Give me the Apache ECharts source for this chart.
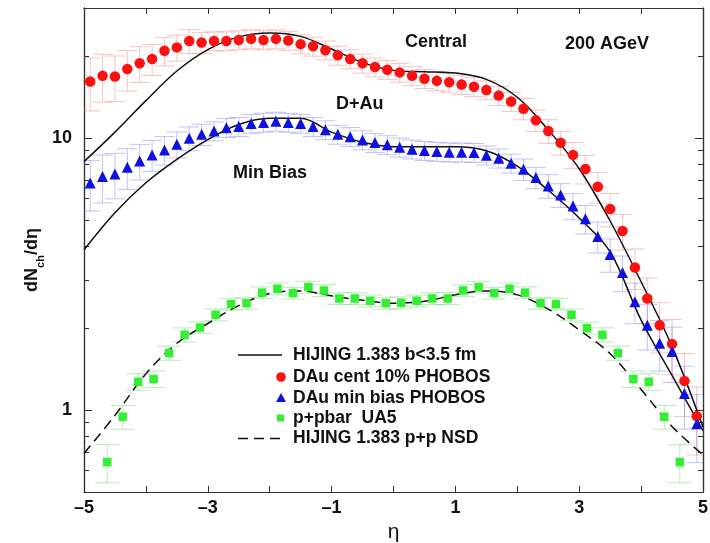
<!DOCTYPE html>
<html><head><meta charset="utf-8">
<script src="https://cdn.jsdelivr.net/npm/echarts@6/dist/echarts.min.js"></script>
<style>html,body{margin:0;padding:0;background:#fff}#c{width:710px;height:543px}</style>
</head><body><div id="c"></div>
<script>
// ---- data ----
const etaPhobos = [-4.9,-4.7,-4.5,-4.3,-4.1,-3.9,-3.7,-3.5,-3.3,-3.1,-2.9,-2.7,-2.5,-2.3,-2.1,-1.9,-1.7,-1.5,-1.3,-1.1,-0.9,-0.7,-0.5,-0.3,-0.1,0.1,0.3,0.5,0.7,0.9,1.1,1.3,1.5,1.7,1.9,2.1,2.3,2.5,2.7,2.9,3.1,3.3,3.5,3.7,3.9,4.1,4.3,4.5,4.7,4.9];
const centralVals = [16.1,16.9,16.8,17.9,18.8,19.5,20.9,21.5,22.7,22.4,22.7,22.7,22.9,23.1,22.9,23.1,22.8,22.1,21.7,21.0,20.1,19.5,18.8,18.2,17.8,17.4,16.9,16.5,16.2,16.0,15.7,15.4,15.0,14.3,13.6,12.8,11.6,10.6,9.6,8.66,7.69,6.61,5.48,4.55,3.34,2.57,2.05,1.75,1.28,0.95];
const centralErr = [0.22,0.20,0.19,0.17,0.15,0.13,0.12,0.11,0.10,0.09,0.08,0.08,0.08,0.08,0.08,0.08,0.08,0.08,0.08,0.08,0.08,0.08,0.08,0.08,0.08,0.08,0.08,0.08,0.08,0.08,0.08,0.08,0.08,0.08,0.08,0.09,0.09,0.10,0.10,0.11,0.12,0.13,0.14,0.15,0.17,0.19,0.21,0.23,0.26,0.28];
const minBiasVals = [6.82,7.21,7.37,7.80,8.23,8.66,9.03,9.48,9.97,10.3,10.6,10.9,11.0,11.3,11.4,11.5,11.4,11.3,11.0,10.7,10.3,10.1,9.83,9.61,9.43,9.24,9.09,8.98,8.91,8.86,8.86,8.83,8.64,8.42,8.07,7.67,7.15,6.66,6.17,5.62,5.04,4.34,3.73,3.20,2.50,2.05,1.76,1.64,1.15,0.89];
const minBiasErr = [0.21,0.20,0.19,0.17,0.15,0.13,0.12,0.11,0.10,0.09,0.08,0.08,0.08,0.08,0.08,0.08,0.08,0.08,0.08,0.08,0.08,0.08,0.08,0.08,0.08,0.08,0.08,0.08,0.08,0.08,0.08,0.08,0.08,0.08,0.08,0.09,0.09,0.10,0.10,0.11,0.12,0.13,0.14,0.15,0.17,0.19,0.21,0.23,0.26,0.28];
const etaUA5 = [-4.625,-4.375,-4.125,-3.875,-3.625,-3.375,-3.125,-2.875,-2.625,-2.375,-2.125,-1.875,-1.625,-1.375,-1.125,-0.875,-0.625,-0.375,-0.125,0.125,0.375,0.625,0.875,1.125,1.375,1.625,1.875,2.125,2.375,2.625,2.875,3.125,3.375,3.625,3.875,4.125,4.375,4.625];
const ua5Vals = [0.644,0.945,1.27,1.30,1.62,1.89,2.01,2.24,2.45,2.47,2.70,2.79,2.69,2.83,2.75,2.57,2.57,2.52,2.47,2.48,2.52,2.57,2.57,2.75,2.83,2.69,2.79,2.70,2.47,2.45,2.24,2.00,1.89,1.62,1.30,1.27,0.945,0.644];
const ua5Err = [0.16,0.10,0.07,0.07,0.06,0.06,0.05,0.05,0.05,0.05,0.05,0.05,0.05,0.05,0.05,0.05,0.05,0.05,0.05,0.05,0.05,0.05,0.05,0.05,0.05,0.05,0.05,0.05,0.05,0.05,0.05,0.05,0.06,0.06,0.07,0.07,0.10,0.16];
const etaHijing = [-5,-4.5,-4,-3.5,-3,-2.5,-2,-1.5,-1,-0.5,0,0.5,1,1.5,2,2.5,3,3.5,4,4.5,5];
const hijingCentral = [8.18,10.5,13.7,17.6,21.1,23.5,24.3,23.6,21.2,18.9,17.7,17.5,17.3,16.4,14.1,10.7,7.70,4.95,2.96,1.71,0.866];
const hijingMinBias = [3.88,5.31,6.84,8.34,9.86,11.2,11.8,11.8,10.5,9.63,9.28,9.27,9.28,8.97,7.88,6.42,5.08,3.81,2.14,1.34,0.84];
const hijingPP = [0.693,0.956,1.36,1.76,2.08,2.42,2.68,2.74,2.63,2.53,2.47,2.51,2.65,2.74,2.65,2.35,1.97,1.61,1.19,0.87,0.684];
const xTickLabels = [-5,-3,-1,1,3,5];
const yTickLabels = [1,10];
const yMinorTicks = [0.5,0.6,0.7,0.8,0.9,2,3,4,5,6,7,8,9,20,30];
const legendNames = ['HIJING 1.383 b<3.5 fm','DAu cent 10% PHOBOS','DAu min bias PHOBOS','p+pbar  UA5','HIJING 1.383 p+p NSD'];

// ---- chart ----
const FONT = '"Liberation Sans", Arial, Helvetica, sans-serif';
const chart = echarts.init(document.getElementById('c'), null, {renderer:'canvas'});
const pairs = (xs, ys) => xs.map((x,i)=>[x, ys[i]]);

function errSeries(xs, vs, errs, color, capHalf){
  return {
    type:'custom', xAxisIndex:0, yAxisIndex:0, z:2, silent:true, animation:false, clip:true,
    encode:{x:0, y:[1,2]},
    data: xs.map((x,i)=>[x, vs[i]*(1-errs[i]), vs[i]*(1+errs[i])]),
    renderItem:function(params, api){
      const x = api.value(0);
      const lo = api.coord([x, api.value(1)]);
      const hi = api.coord([x, api.value(2)]);
      const st = {stroke:color, lineWidth:1, fill:null};
      return {type:'group', children:[
        {type:'line', shape:{x1:lo[0],y1:lo[1],x2:hi[0],y2:hi[1]}, style:st},
        {type:'line', shape:{x1:lo[0]-capHalf,y1:lo[1],x2:lo[0]+capHalf,y2:lo[1]}, style:st},
        {type:'line', shape:{x1:hi[0]-capHalf,y1:hi[1],x2:hi[0]+capHalf,y2:hi[1]}, style:st}
      ]};
    }
  };
}

const axisLineStyle = {color:'#333', width:1.2};
const labelStyle = {color:'#111', fontSize:18, fontWeight:'bold', fontFamily:FONT};

function yAx(pos, major){
  return {
    type:'log', logBase:10, min:0.5, max:30, position:pos, gridIndex:0,
    axisLine:{show:true, onZero:false, lineStyle:axisLineStyle},
    axisTick:{show:true, inside:true, length: major?8:5, customValues: major?yTickLabels:yMinorTicks, lineStyle:{color:'#333', width:1}},
    axisLabel:(major && pos==='left') ? Object.assign({customValues:yTickLabels, margin:12, formatter:v=>String(v)}, labelStyle) : {show:false},
    splitLine:{show:false}, minorTick:{show:false}, minorSplitLine:{show:false}
  };
}
function xAx(pos){
  return {
    type:'value', min:-5, max:5, interval:1, position:pos, gridIndex:0,
    axisLine:{show:true, onZero:false, lineStyle:axisLineStyle},
    axisTick:{show:true, inside:true, length:6, lineStyle:{color:'#333', width:1}},
    axisLabel: pos==='bottom' ? Object.assign({customValues:xTickLabels, margin:7, formatter:v=> v<0 ? '\u2013'+(-v) : String(v)}, labelStyle) : {show:false},
    splitLine:{show:false},
    name: pos==='bottom' ? 'η' : '', nameLocation:'middle', nameGap:22,
    nameTextStyle:{fontSize:21, color:'#111', fontFamily:FONT}
  };
}

const legendRowsY = [355, 377, 398, 418, 438.5];
const graphics = [
  {type:'text', x:405, y:42.5, style:{text:'Central', font:'bold 18px '+FONT, fill:'#111', verticalAlign:'middle'}},
  {type:'text', x:565, y:44, style:{text:'200 AGeV', font:'bold 18px '+FONT, fill:'#111', verticalAlign:'middle'}},
  {type:'text', x:336, y:104, style:{text:'D+Au', font:'bold 18px '+FONT, fill:'#111', verticalAlign:'middle'}},
  {type:'text', x:233, y:173.5, style:{text:'Min Bias', font:'bold 18px '+FONT, fill:'#111', verticalAlign:'middle'}},
  {type:'text', x:30, y:260, rotation:Math.PI/2, style:{
    text:'{a|dN}{s|ch}{a|/d}{a|η}', align:'center', verticalAlign:'middle',
    rich:{a:{font:'bold 18px '+FONT, fill:'#111', verticalAlign:'bottom', lineHeight:22},
          s:{font:'bold 11px '+FONT, fill:'#111', verticalAlign:'bottom', lineHeight:14, padding:[0,0,-5,0]}}}},
  // legend
  {type:'line', shape:{x1:238,y1:legendRowsY[0],x2:282,y2:legendRowsY[0]}, style:{stroke:'#111', lineWidth:1.5}},
  {type:'circle', shape:{cx:281,cy:legendRowsY[1],r:4.8}, style:{fill:'#ff1010'}},
  {type:'polygon', shape:{points:[[281,legendRowsY[2]-5],[276,legendRowsY[2]+4],[286,legendRowsY[2]+4]]}, style:{fill:'#1010e0'}},
  {type:'rect', shape:{x:277,y:legendRowsY[3]-3.5,width:7,height:7}, style:{fill:'#33ee33'}},
  {type:'line', shape:{x1:238,y1:legendRowsY[4],x2:282,y2:legendRowsY[4]}, style:{stroke:'#111', lineWidth:1.5, lineDash:[10,6]}}
];
legendNames.forEach((t,i)=>graphics.push({type:'text', x:293, y:legendRowsY[i], style:{text:t, font:'bold 17.5px '+FONT, fill:'#111', verticalAlign:'middle'}}));

chart.setOption({
  backgroundColor:'#fff',
  animation:false,
  grid:{left:84, right:7, top:8, bottom:51, containLabel:false, outerBoundsMode:'none'},
  xAxis:[xAx('bottom'), xAx('top')],
  yAxis:[yAx('left',true), yAx('left',false), yAx('right',true), yAx('right',false)],
  series:[
    errSeries(etaPhobos, centralVals, centralErr, 'rgba(245,120,120,0.45)', 10),
    errSeries(etaPhobos, minBiasVals, minBiasErr, 'rgba(120,120,245,0.45)', 10),
    errSeries(etaUA5, ua5Vals, ua5Err, 'rgba(110,225,110,0.5)', 12),
    {type:'line', name:legendNames[0], data:pairs(etaHijing, hijingCentral), smooth:0.35, showSymbol:false, z:3,
     lineStyle:{color:'#111', width:1.5}},
    {type:'line', name:legendNames[0]+' MB', data:pairs(etaHijing, hijingMinBias), smooth:0.35, showSymbol:false, z:3,
     lineStyle:{color:'#111', width:1.5}},
    {type:'line', name:legendNames[4], data:pairs(etaHijing, hijingPP), smooth:0.35, showSymbol:false, z:3,
     lineStyle:{color:'#111', width:1.5, type:[10,6]}},
    {type:'scatter', name:legendNames[1], data:pairs(etaPhobos, centralVals), symbol:'circle', symbolSize:10.5, z:4,
     itemStyle:{color:'#ff1010', opacity:1}},
    {type:'scatter', name:legendNames[2], data:pairs(etaPhobos, minBiasVals), symbol:'triangle', symbolSize:11, z:4,
     itemStyle:{color:'#1010e0', opacity:1}},
    {type:'scatter', name:legendNames[3], data:pairs(etaUA5, ua5Vals), symbol:'rect', symbolSize:8.5, z:4,
     itemStyle:{color:'#33ee33', opacity:1}}
  ],
  graphic:graphics
});
</script></body></html>
